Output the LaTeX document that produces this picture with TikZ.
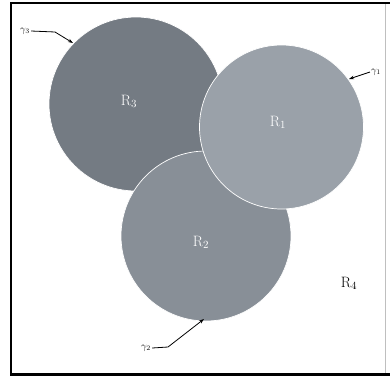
\documentclass[tikz,border=0pt]{standalone}
\usetikzlibrary{arrows.meta}
\definecolor{cthree}{RGB}{116,123,131}
\definecolor{ctwo}{RGB}{136,143,151}
\definecolor{cone}{RGB}{154,161,169}
\tikzset{
  region/.style={draw=white, line width=0.7pt},
  rlab/.style={text=white, font=\fontsize{15}{17}\selectfont},
  glab/.style={font=\fontsize{10}{12}\selectfont, inner sep=1pt},
  pointer/.style={line width=0.8pt, -{Stealth[length=5pt,width=3.5pt]}},
}
\begin{document}
\begin{tikzpicture}[x=1pt,y=-1pt]
\useasboundingbox (0,0) rectangle (390,378);
\draw[black!25, line width=0.6pt] (385,3) -- (385,374.5);
\draw[line width=2.5pt] (390,3) -- (11,3) -- (11,374.5) -- (390,374.5);
\filldraw[region, fill=cthree] (136,104) circle (87);
\filldraw[region, fill=ctwo] (206,236) circle (85);
\filldraw[region, fill=cone] (281.5,127) circle (82);
\node[rlab] (r3) at (129,101) {R$_3$};
\node[rlab] (r1) at (278,122) {R$_1$};
\node[rlab] (r2) at (201,242) {R$_2$};
\node[font=\fontsize{15}{17}\selectfont] (r4) at (349,283) {R$_4$};
\node[glab] (g3) at (25,31) {$\gamma_3$};
\node[glab] (g1) at (376,72) {$\gamma_1$};
\node[glab] (g2) at (146,348) {$\gamma_2$};
\coordinate (p3) at (73,43);
\coordinate (p1) at (349,79);
\coordinate (p2) at (204,319);
\draw[pointer] (g3.east) -- (55,32) -- (p3);
\draw[pointer] (g1.west) -- (p1);
\draw[pointer] (g2.east) -- (168,347) -- (p2);
\end{tikzpicture}
\end{document}
